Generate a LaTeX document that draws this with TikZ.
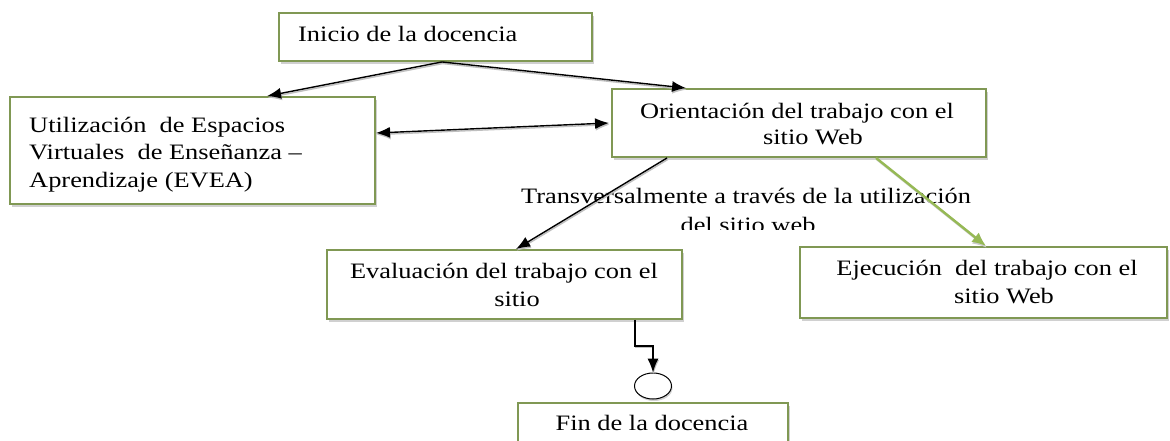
\documentclass[tikz,border=0pt]{standalone}
\usepackage{fontspec}
\setmainfont{Liberation Serif}[FakeStretch=1.2]
\usetikzlibrary{arrows.meta,shapes.geometric,shadows}
\definecolor{boxgreen}{RGB}{128,152,84}
\definecolor{arrgreen}{RGB}{150,185,85}
\tikzset{
  box/.style={draw=boxgreen, line width=1.9pt, fill=white, inner sep=0pt,
    drop shadow={shadow xshift=1.5pt, shadow yshift=-2.8pt, fill=black!30, opacity=0.6}},
  txt/.style={inner sep=0pt, anchor=base},
  txtl/.style={inner sep=0pt, anchor=base west},
  conn/.style={draw=black, line width=1.4pt, -{Latex[length=14pt,width=11pt]},
    preaction={draw=black!25, line width=1.4pt, transform canvas={shift={(0.6pt,-1.6pt)}}}},
  dconn/.style={draw=black, line width=1.4pt, {Latex[length=14pt,width=11pt]}-{Latex[length=14pt,width=11pt]},
    preaction={draw=black!25, line width=1.4pt, transform canvas={shift={(0.6pt,-1.6pt)}}}},
  gconn/.style={draw=arrgreen, line width=2.4pt, -{Latex[length=14pt,width=12pt]},
    preaction={draw=black!20, line width=1.6pt, transform canvas={shift={(0.6pt,-1.6pt)}}}},
}
\begin{document}
\begin{tikzpicture}[x=1pt,y=-1pt,font=\fontsize{22pt}{27pt}\selectfont]
\clip (0,0) rectangle (1170,441);
\fill[white] (0,0) rectangle (1170,441);

% boxes
\node[box, minimum width=313pt, minimum height=48pt] (ini) at (435.5,37) {};
\node[box, minimum width=365pt, minimum height=107pt] (utl) at (192.5,150.5) {};
\node[box, minimum width=374pt, minimum height=68pt] (ori) at (799,123) {};
\node[box, minimum width=355pt, minimum height=69pt] (eva) at (504.5,284.5) {};
\node[box, minimum width=367pt, minimum height=71pt] (eje) at (983.5,282.5) {};
\node[box, minimum width=270pt, minimum height=62pt] (fin) at (653,434) {};
\node[draw=black, line width=1pt, fill=white, ellipse, inner sep=0pt,
      minimum width=37pt, minimum height=26pt,
      drop shadow={shadow xshift=1pt, shadow yshift=-2pt, fill=black!30, opacity=0.6}] (endp) at (653,386) {};

% texts
\node[txtl] (tini) at (298,42) {Inicio de la docencia};
\node[txtl] (tutl1) at (29,133) {Utilización\ \ de Espacios};
\node[txtl] (tutl2) at (29,160) {Virtuales\ \ de Enseñanza –};
\node[txtl] (tutl3) at (29,187) {Aprendizaje (EVEA)};
\node[txt] (tori1) at (797,119) {Orientación del trabajo con el};
\node[txt] (tori2) at (813,145) {sitio Web};
\node[txt] (teva1) at (504,278) {Evaluación del trabajo con el};
\node[txt] (teva2) at (517,306) {sitio};
\node[txt] (teje1) at (987,275) {Ejecución\ \ del trabajo con el};
\node[txt] (teje2) at (1004,303) {sitio Web};
\node[txt] (tfin) at (652,430) {Fin de la docencia};
\node[txt] (ttr1) at (746,203) {Transversalmente a través de la utilización};
\begin{scope}
\clip (500,180) rectangle (1000,229.5);
\node[txt] (ttr2) at (748,232) {del sitio web};
\end{scope}

% connectors
\draw[conn] ([xshift=6.5pt]ini.south) -- ([xshift=258pt]utl.north west);
\draw[conn] ([xshift=6.5pt]ini.south) -- ([xshift=75pt]ori.north west);
\draw[dconn] ([yshift=17.5pt]utl.east) -- ([xshift=-2pt]ori.west);
\draw[conn] ([xshift=56pt]ori.south west) -- ([xshift=190pt]eva.north west);
\draw[gconn] ([xshift=265pt]ori.south west) -- ([xshift=187pt]eje.north west);
\draw[conn] ([xshift=309pt]eva.south west) -- ++(0,26) -| (endp.north);
\end{tikzpicture}
\end{document}
